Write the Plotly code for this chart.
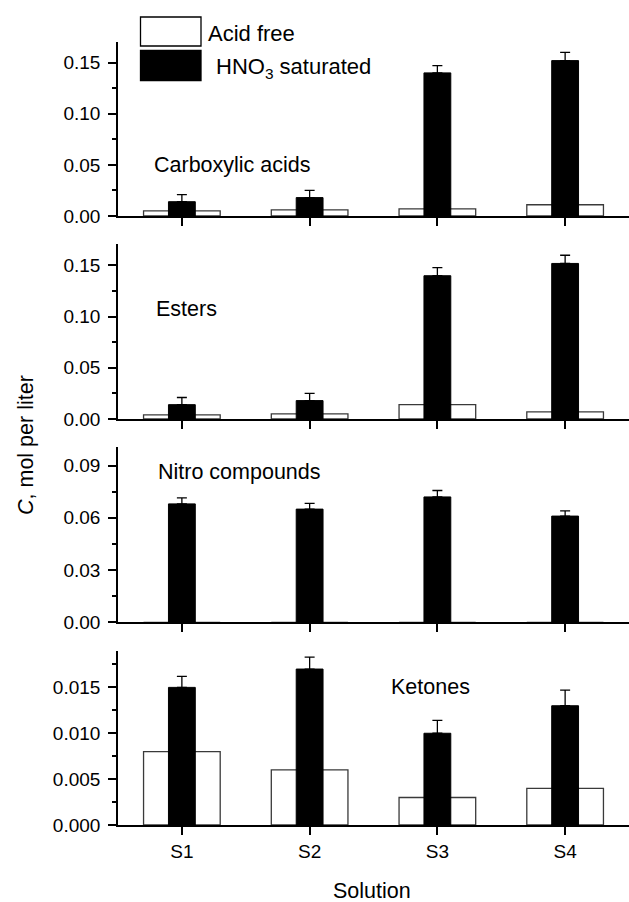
import plotly.graph_objects as go

categories = ["S1", "S2", "S3", "S4"]
panel_names = ["Carboxylic acids", "Esters", "Nitro compounds", "Ketones"]

acid_free = [
    [0.005, 0.006, 0.007, 0.011],
    [0.004, 0.005, 0.014, 0.007],
    [0, 0, 0, 0],
    [0.008, 0.006, 0.003, 0.004],
]
hno3 = [
    [0.014, 0.018, 0.140, 0.152],
    [0.014, 0.018, 0.140, 0.152],
    [0.068, 0.065, 0.072, 0.061],
    [0.015, 0.017, 0.010, 0.013],
]
hno3_err = [
    [0.007, 0.007, 0.007, 0.008],
    [0.007, 0.007, 0.008, 0.008],
    [0.0035, 0.0033, 0.0037, 0.003],
    [0.0012, 0.0013, 0.0014, 0.0017],
]
y_max = [0.1705, 0.171, 0.1005, 0.019]
y_dtick = [0.05, 0.05, 0.03, 0.005]
y_fmt = [".2f", ".2f", ".2f", ".3f"]

W, H = 629, 902
L = 118
panel_px = [(41.7, 216), (244, 419), (447.3, 622.3), (650.7, 825)]

FONT = "Liberation Sans, Arial, sans-serif"
TICK_SIZE = 19
LABEL_SIZE = 21.5
fig = go.Figure()

for i in range(4):
    ax = "" if i == 0 else str(i + 1)
    fig.add_trace(go.Bar(
        x=categories, y=acid_free[i], width=0.6,
        marker=dict(color="white", line=dict(color="#3a3a3a", width=1.3)),
        xaxis="x" + ax, yaxis="y" + ax, showlegend=False, name="Acid free"))
    fig.add_trace(go.Bar(
        x=categories, y=hno3[i], width=0.21,
        marker=dict(color="black", line=dict(color="black", width=1)),
        error_y=dict(type="data", array=hno3_err[i], arrayminus=[0] * 4,
                     symmetric=False, color="black", thickness=1.3, width=5),
        xaxis="x" + ax, yaxis="y" + ax, showlegend=False, name="HNO3 saturated"))

layout = dict(
    width=W, height=H, barmode="overlay",
    paper_bgcolor="white", plot_bgcolor="white",
    margin=dict(l=L, r=0, t=0, b=0),
    font=dict(family=FONT, size=TICK_SIZE, color="black"),
    showlegend=False,
)

for i in range(4):
    ax = "" if i == 0 else str(i + 1)
    top, bot = panel_px[i]
    dom = [1 - bot / H, 1 - top / H]
    layout["xaxis" + ax] = dict(
        domain=[0, 1], anchor="y" + ax, type="category",
        range=[-0.5, 3.5], showline=True, linecolor="black", linewidth=1.6,
        ticks="outside", ticklen=8, tickwidth=1.6, tickcolor="black",
        showticklabels=(i == 3), showgrid=False, zeroline=False,
        tickfont=dict(size=TICK_SIZE), automargin=False,
        **({} if i == 0 else {"matches": "x"}))
    layout["yaxis" + ax] = dict(
        domain=dom, anchor="x" + ax, range=[0, y_max[i]],
        showline=True, linecolor="black", linewidth=1.6,
        ticks="outside", ticklen=8, tickwidth=1.6, tickcolor="black",
        dtick=y_dtick[i], tick0=0, tickformat=y_fmt[i], ticklabelstandoff=4,
        minor=dict(ticks="outside", ticklen=4, tickwidth=1.6, tickcolor="black",
                   dtick=y_dtick[i] / 2, showgrid=False),
        showgrid=False, zeroline=False, tickfont=dict(size=TICK_SIZE), automargin=False)

fig.update_layout(**layout)

# Panel labels
label_pos = [(-0.23, 0.050), (-0.22, 0.1076), (-0.2, 0.0865), (1.62, 0.0150)]
for i in range(4):
    ax = "" if i == 0 else str(i + 1)
    fig.add_annotation(text=panel_names[i], x=label_pos[i][0], y=label_pos[i][1],
                       xref="x" + ax, yref="y" + ax, xanchor="left", yanchor="middle",
                       showarrow=False, font=dict(size=LABEL_SIZE))

def px2x(p):
    return (p - L) / (W - L)

def px2y(p):
    return 1 - p / H

# Legend (drawn)
fig.add_shape(type="rect", xref="paper", yref="paper",
              x0=px2x(140.5), x1=px2x(201), y0=px2y(46), y1=px2y(17),
              line=dict(color="black", width=1.3), fillcolor="white")
fig.add_shape(type="rect", xref="paper", yref="paper",
              x0=px2x(140.5), x1=px2x(201), y0=px2y(80.5), y1=px2y(50.5),
              line=dict(color="black", width=1.3), fillcolor="black")
fig.add_annotation(text="Acid free", x=px2x(206), y=px2y(33), xref="paper", yref="paper",
                   xanchor="left", yanchor="middle", showarrow=False, font=dict(size=22))
fig.add_annotation(text="HNO<sub>3</sub> saturated", x=px2x(214), y=px2y(68), xref="paper",
                   yref="paper", xanchor="left", yanchor="middle", showarrow=False,
                   font=dict(size=22))

# Axis titles
fig.add_annotation(text="<i>C</i>, mol per liter", x=px2x(26), y=px2y(445), xref="paper",
                   yref="paper", xanchor="center", yanchor="middle", textangle=-90,
                   showarrow=False, font=dict(size=LABEL_SIZE))
fig.add_annotation(text="Solution", x=px2x(372), y=px2y(905), xref="paper", yref="paper",
                   xanchor="center", yanchor="bottom", showarrow=False,
                   font=dict(size=LABEL_SIZE))

fig.write_html("out.html")
